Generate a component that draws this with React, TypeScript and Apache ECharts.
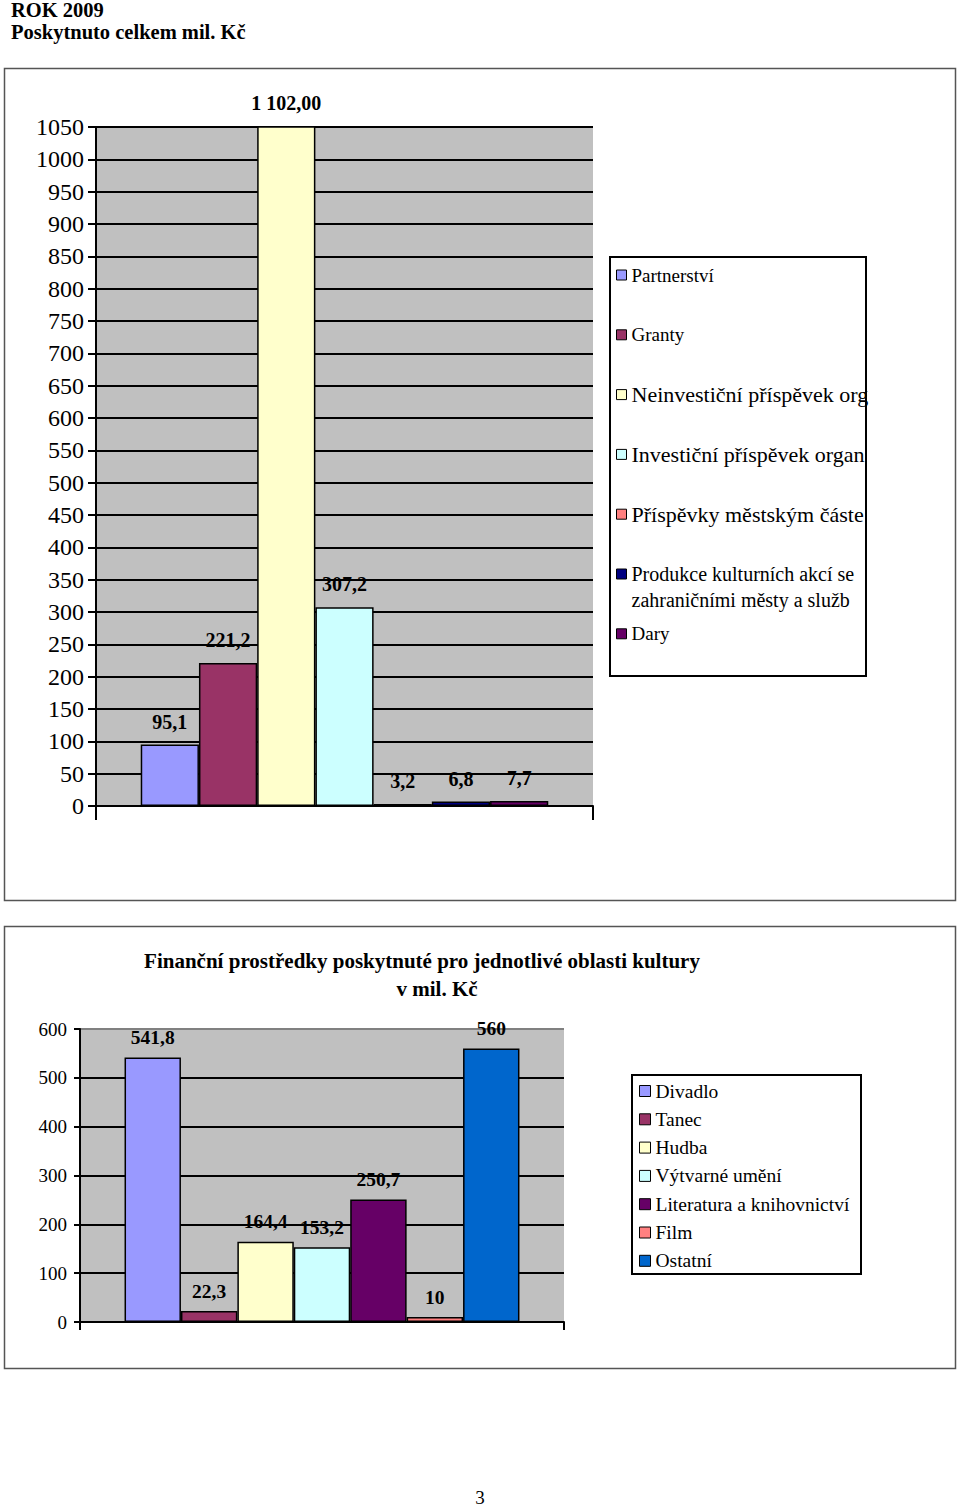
import React, { useEffect, useRef } from 'react';
import * as echarts from 'echarts';

// ---- Chart 1: ROK 2009, Poskytnuto celkem mil. Kč ----
const topNames = [
  'Partnerství',
  'Granty',
  'Neinvestiční příspěvek organizacím',
  'Investiční příspěvek organizacím',
  'Příspěvky městským částem',
  'Produkce kulturních akcí se zahraničními městy a službami',
  'Dary',
];
// legend texts as they are visible (cut off by the legend frame)
const topLegendShown = [
  'Partnerství',
  'Granty',
  'Neinvestiční příspěvek org',
  'Investiční příspěvek organ',
  'Příspěvky městským částe',
  '\nProdukce kulturních akcí se\nzahraničními městy a služb',
  'Dary',
];
const topValues = [95.1, 221.2, 1102, 307.2, 3.2, 6.8, 7.7];
const topLabels = ['95,1', '221,2', '1 102,00', '307,2', '3,2', '6,8', '7,7'];
const topColors = ['#9999FF', '#993366', '#FFFFCC', '#CCFFFF', '#FF8080', '#000080', '#660066'];
const topAxisMin = 0;
const topAxisMax = 1050;
const topAxisStep = 50;

// ---- Chart 2: Finanční prostředky pro jednotlivé oblasti kultury ----
const cultNames = [
  'Divadlo',
  'Tanec',
  'Hudba',
  'Výtvarné umění',
  'Literatura a knihovnictví',
  'Film',
  'Ostatní',
];
const cultValues = [541.8, 22.3, 164.4, 153.2, 250.7, 10, 560];
const cultColors = ['#9999FF', '#993366', '#FFFFCC', '#CCFFFF', '#660066', '#FF8080', '#0066CC'];
const cultAxisMin = 0;
const cultAxisMax = 600;
const cultAxisStep = 100;

const SERIF = '"Liberation Serif", "Times New Roman", serif';

// legend 1 styling (layout only)
const topLegendFontSize = [19, 19, 22, 22, 22, 20, 19];

export default function App() {
  const ref = useRef<HTMLDivElement>(null);

  useEffect(() => {
    if (!ref.current) return;
    const chart = echarts.init(ref.current, undefined, { renderer: 'svg' });

    const topSeries = topNames.map((name, i) => ({
      name,
      type: 'bar',
      xAxisIndex: 0,
      yAxisIndex: 0,
      barGap: '0%',
      barCategoryGap: '18%',
      data: [topValues[i]],
      itemStyle: { color: topColors[i], borderColor: '#000', borderWidth: 1.5 },
      label: {
        show: true,
        position: 'top',
        distance: 13,
        formatter: () => topLabels[i],
        fontFamily: SERIF,
        fontSize: 20,
        fontWeight: 'bold',
        color: '#000',
      },
    }));

    const cultSeries = cultNames.map((name, i) => ({
      name,
      type: 'bar',
      xAxisIndex: 1,
      yAxisIndex: 1,
      barGap: '0%',
      barCategoryGap: '18.4%',
      data: [cultValues[i]],
      itemStyle: { color: cultColors[i], borderColor: '#000', borderWidth: 1.5 },
      label: {
        show: true,
        position: 'top',
        distance: 10,
        formatter: (p: any) => String(p.value).replace('.', ','),
        fontFamily: SERIF,
        fontSize: 19.5,
        fontWeight: 'bold',
        color: '#000',
      },
    }));

    // one legend block per entry of chart 1, so each sits on its own row
    const topLegends = topNames.map((name, i) => {
      const multi = topLegendShown[i].indexOf('\n') >= 0;
      const lh = multi ? 26 : 24;
      const lines = topLegendShown[i].split('\n').length;
      const centerY = 275 + 59.8 * i;
      const top = centerY - 5 - (lines * lh) / 2 + 5;
      return {
        data: [name],
        orient: 'vertical',
        left: 616,
        top,
        padding: 0,
        itemWidth: 10,
        itemHeight: 10,
        icon: 'rect',
        selectedMode: false,
        itemStyle: { borderColor: '#000', borderWidth: 1 },
        formatter: () => topLegendShown[i],
        textStyle: {
          fontFamily: SERIF,
          fontSize: topLegendFontSize[i],
          lineHeight: lh,
          color: '#000',
        },
      };
    });

    const option: any = {
      animation: false,
      backgroundColor: '#fff',
      grid: [
        {
          left: 96,
          top: 127,
          width: 497,
          height: 679,
          show: true,
          backgroundColor: '#C0C0C0',
          borderWidth: 0,
        },
        {
          left: 80,
          top: 1029,
          width: 484,
          height: 293,
          show: true,
          backgroundColor: '#C0C0C0',
          borderWidth: 0,
        },
      ],
      xAxis: [
        {
          gridIndex: 0,
          type: 'category',
          data: [''],
          axisLine: { show: true, lineStyle: { color: '#000', width: 2 } },
          axisTick: { show: true, length: 14, lineStyle: { color: '#000', width: 2 } },
          axisLabel: { show: false },
        },
        {
          gridIndex: 1,
          type: 'category',
          data: [''],
          axisLine: { show: true, lineStyle: { color: '#000', width: 2 } },
          axisTick: { show: true, length: 8, lineStyle: { color: '#000', width: 2 } },
          axisLabel: { show: false },
        },
      ],
      yAxis: [
        {
          gridIndex: 0,
          type: 'value',
          min: topAxisMin,
          max: topAxisMax,
          interval: topAxisStep,
          axisLine: { show: true, lineStyle: { color: '#000', width: 2 } },
          axisTick: { show: true, length: 8, lineStyle: { color: '#000', width: 2 } },
          splitLine: { show: true, lineStyle: { color: '#000', width: 2 } },
          axisLabel: {
            margin: 12,
            fontFamily: SERIF,
            fontSize: 24,
            color: '#000',
            formatter: (v: number) => String(v),
          },
        },
        {
          gridIndex: 1,
          type: 'value',
          min: cultAxisMin,
          max: cultAxisMax,
          interval: cultAxisStep,
          axisLine: { show: true, lineStyle: { color: '#000', width: 2 } },
          axisTick: { show: true, length: 6, lineStyle: { color: '#000', width: 2 } },
          splitLine: {
            show: true,
            lineStyle: {
              color: ['#000', '#000', '#000', '#000', '#000', '#000', '#808080'],
              width: 2,
            },
          },
          axisLabel: {
            margin: 13,
            fontFamily: SERIF,
            fontSize: 19,
            color: '#000',
            formatter: (v: number) => String(v),
          },
        },
      ],
      legend: [
        ...topLegends,
        {
          data: cultNames,
          orient: 'vertical',
          left: 639,
          top: 1081,
          padding: 0,
          itemGap: 8.3,
          itemWidth: 11,
          itemHeight: 11,
          icon: 'rect',
          selectedMode: false,
          itemStyle: { borderColor: '#000', borderWidth: 1 },
          textStyle: { fontFamily: SERIF, fontSize: 19.5, color: '#000', lineHeight: 20 },
        },
      ],
      graphic: [
        {
          type: 'text',
          left: 11,
          top: -1,
          style: { text: 'ROK 2009', font: `bold 20.5px ${SERIF}`, fill: '#000' },
        },
        {
          type: 'text',
          left: 11,
          top: 21,
          style: { text: 'Poskytnuto celkem mil. Kč', font: `bold 20.5px ${SERIF}`, fill: '#000' },
        },
        {
          type: 'rect',
          shape: { x: 4.5, y: 68.5, width: 951, height: 832 },
          style: { fill: 'none', stroke: '#555', lineWidth: 1.5 },
          z: -1,
        },
        {
          type: 'rect',
          shape: { x: 610, y: 257, width: 256, height: 419 },
          style: { fill: 'none', stroke: '#000', lineWidth: 2 },
        },
        {
          type: 'rect',
          shape: { x: 4.5, y: 926.5, width: 951, height: 442 },
          style: { fill: 'none', stroke: '#555', lineWidth: 1.5 },
          z: -1,
        },
        {
          type: 'text',
          x: 422,
          y: 961,
          style: {
            text: 'Finanční prostředky poskytnuté pro jednotlivé oblasti kultury',
            font: `bold 21px ${SERIF}`,
            fill: '#000',
            align: 'center',
            verticalAlign: 'middle',
          },
        },
        {
          type: 'text',
          x: 437,
          y: 989,
          style: {
            text: 'v mil. Kč',
            font: `bold 21px ${SERIF}`,
            fill: '#000',
            align: 'center',
            verticalAlign: 'middle',
          },
        },
        {
          type: 'rect',
          shape: { x: 632, y: 1075, width: 229, height: 199 },
          style: { fill: 'none', stroke: '#000', lineWidth: 2 },
        },
        {
          type: 'text',
          x: 480,
          y: 1497,
          style: {
            text: '3',
            font: `19px ${SERIF}`,
            fill: '#000',
            align: 'center',
            verticalAlign: 'middle',
          },
        },
      ],
      series: [...topSeries, ...cultSeries],
    };

    chart.setOption(option);
    return () => chart.dispose();
  }, []);

  return (
    <div
      ref={ref}
      style={{ position: 'absolute', left: 0, top: 0, width: 960, height: 1507, background: '#fff' }}
    />
  );
}
